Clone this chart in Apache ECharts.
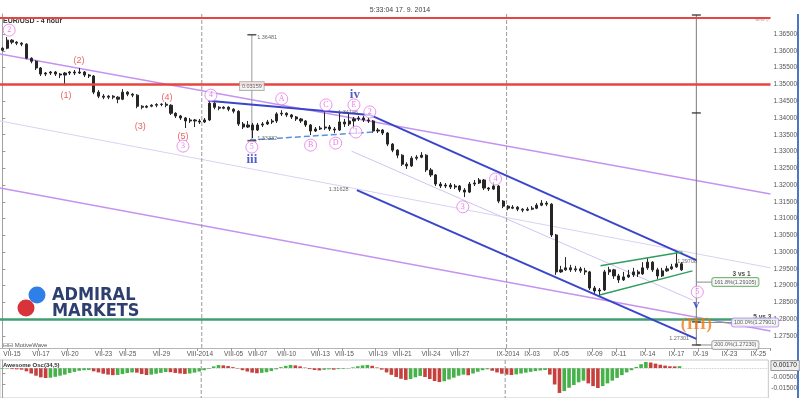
<!DOCTYPE html>
<html><head><meta charset="utf-8">
<script src="https://cdn.jsdelivr.net/npm/echarts@6/dist/echarts.min.js"></script>
<style>html,body{margin:0;padding:0;background:#fff;overflow:hidden}#c{width:800px;height:398px}</style>
</head><body><div id="c"></div>
<script>
// ---------- DATA ----------
const slotCount = 160; // 8-hour slots across the panel
const tickLabels = ['VII-15','VII-17','VII-20','VII-23','VII-25','VII-29','VIII-2014','VIII-05','VIII-07','VIII-10','VIII-13','VIII-15','VIII-19','VIII-21','VIII-24','VIII-27','IX-2014','IX-03','IX-05','IX-09','IX-11','IX-14','IX-17','IX-19','IX-23','IX-25'];
const tickSlots  = [2,8,14,21,26,33,41,48,53,59,66,71,78,83,89,95,105,110,116,123,128,134,140,145,151,157];
const priceTicks = [1.275,1.28,1.285,1.29,1.295,1.30,1.305,1.31,1.315,1.32,1.325,1.33,1.335,1.34,1.345,1.35,1.355,1.36,1.365];
const aoTicks = [-0.005,-0.015];

// EUR/USD bars: [open, close, low, high]
const ohlc = [
[1.3602,1.3608,1.3599,1.3611],[1.3608,1.3632,1.3605,1.3641],[1.3632,1.3626,1.3620,1.3635],[1.3626,1.3623,1.3617,1.3629],
[1.3623,1.3620,1.3614,1.3626],[1.3620,1.3578,1.3575,1.3623],[1.3578,1.3569,1.3563,1.3581],[1.3569,1.3549,1.3543,1.3572],
[1.3549,1.3531,1.3525,1.3552],[1.3531,1.3534,1.3525,1.3537],[1.3534,1.3537,1.3528,1.3540],[1.3537,1.3531,1.3525,1.3540],
[1.3531,1.3528,1.3519,1.3534],[1.3528,1.3534,1.3498,1.3537],[1.3534,1.3537,1.3528,1.3540],[1.3537,1.3534,1.3528,1.3543],
[1.3534,1.3537,1.3531,1.3549],[1.3537,1.3528,1.3522,1.3540],[1.3528,1.3525,1.3519,1.3531],[1.3525,1.3477,1.3471,1.3528],
[1.3477,1.3465,1.3459,1.3483],[1.3465,1.3462,1.3456,1.3471],[1.3462,1.3465,1.3456,1.3468],[1.3465,1.3462,1.3456,1.3468],
[1.3462,1.3456,1.3444,1.3465],[1.3456,1.3477,1.3453,1.3486],[1.3477,1.3471,1.3465,1.3480],[1.3471,1.3468,1.3462,1.3474],
[1.3468,1.3435,1.3429,1.3471],[1.3435,1.3432,1.3426,1.3438],[1.3432,1.3435,1.3429,1.3438],[1.3435,1.3438,1.3432,1.3441],
[1.3438,1.3440,1.3432,1.3444],[1.3440,1.3441,1.3435,1.3444],[1.3441,1.3438,1.3432,1.3447],[1.3438,1.3414,1.3409,1.3441],
[1.3414,1.3406,1.3400,1.3417],[1.3406,1.3400,1.3394,1.3409],[1.3400,1.3391,1.3370,1.3403],[1.3391,1.3394,1.3385,1.3400],
[1.3394,1.3391,1.3373,1.3397],[1.3391,1.3388,1.3382,1.3397],[1.3388,1.3394,1.3385,1.3400],[1.3394,1.3444,1.3391,1.3450],
[1.3444,1.3432,1.3426,1.3447],[1.3432,1.3429,1.3423,1.3435],[1.3429,1.3432,1.3426,1.3435],[1.3432,1.3426,1.3420,1.3435],
[1.3426,1.3420,1.3414,1.3429],[1.3420,1.3382,1.3376,1.3423],[1.3382,1.3373,1.3367,1.3388],[1.3373,1.3379,1.3370,1.3391],
[1.3379,1.3364,1.3340,1.3385],[1.3364,1.3379,1.3361,1.3385],[1.3379,1.3382,1.3373,1.3388],[1.3382,1.3388,1.3379,1.3394],
[1.3388,1.3391,1.3382,1.3397],[1.3391,1.3412,1.3385,1.3417],[1.3412,1.3414,1.3406,1.3423],[1.3414,1.3409,1.3403,1.3417],
[1.3409,1.3403,1.3397,1.3412],[1.3403,1.3397,1.3391,1.3406],[1.3397,1.3391,1.3385,1.3400],[1.3391,1.3379,1.3373,1.3394],
[1.3379,1.3361,1.3349,1.3382],[1.3361,1.3367,1.3358,1.3373],[1.3367,1.3370,1.3364,1.3376],[1.3370,1.3373,1.3364,1.3417],
[1.3373,1.3367,1.3361,1.3379],[1.3367,1.3364,1.3355,1.3373],[1.3364,1.3388,1.3361,1.3414],[1.3388,1.3382,1.3373,1.3397],
[1.3382,1.3391,1.3376,1.3417],[1.3391,1.3397,1.3367,1.3403],[1.3397,1.3400,1.3391,1.3406],[1.3400,1.3394,1.3388,1.3406],
[1.3394,1.3391,1.3385,1.3400],[1.3391,1.3361,1.3355,1.3394],[1.3361,1.3364,1.3355,1.3370],[1.3364,1.3355,1.3349,1.3367],
[1.3355,1.3322,1.3316,1.3358],[1.3322,1.3304,1.3298,1.3325],[1.3304,1.3289,1.3280,1.3307],[1.3289,1.3262,1.3257,1.3292],
[1.3262,1.3257,1.3248,1.3268],[1.3257,1.3280,1.3254,1.3286],[1.3280,1.3283,1.3274,1.3289],[1.3283,1.3289,1.3280,1.3298],
[1.3289,1.3245,1.3239,1.3292],[1.3245,1.3230,1.3224,1.3251],[1.3230,1.3203,1.3197,1.3233],[1.3203,1.3197,1.3191,1.3209],
[1.3197,1.3200,1.3191,1.3206],[1.3200,1.3194,1.3188,1.3206],[1.3194,1.3197,1.3188,1.3203],[1.3197,1.3185,1.3179,1.3200],
[1.3185,1.3179,1.3164,1.3191],[1.3179,1.3203,1.3176,1.3209],[1.3203,1.3206,1.3197,1.3215],[1.3206,1.3215,1.3203,1.3221],
[1.3215,1.3191,1.3185,1.3218],[1.3191,1.3188,1.3182,1.3194],[1.3188,1.3197,1.3185,1.3209],[1.3197,1.3152,1.3146,1.3200],
[1.3152,1.3137,1.3131,1.3155],[1.3137,1.3131,1.3125,1.3140],[1.3131,1.3134,1.3128,1.3140],[1.3134,1.3128,1.3122,1.3137],
[1.3128,1.3125,1.3119,1.3131],[1.3125,1.3128,1.3122,1.3134],[1.3128,1.3131,1.3125,1.3137],[1.3131,1.3140,1.3128,1.3146],
[1.3140,1.3146,1.3137,1.3155],[1.3146,1.3143,1.3137,1.3152],[1.3143,1.3051,1.3045,1.3146],[1.3051,1.2941,1.2932,1.3054],
[1.2941,1.2947,1.2938,1.2959],[1.2947,1.2953,1.2944,1.2985],[1.2953,1.2947,1.2941,1.2962],[1.2947,1.2950,1.2941,1.2959],
[1.2950,1.2944,1.2938,1.2956],[1.2944,1.2941,1.2932,1.2953],[1.2941,1.2893,1.2887,1.2944],[1.2893,1.2884,1.2875,1.2899],
[1.2884,1.2887,1.2866,1.2893],[1.2887,1.2941,1.2884,1.2947],[1.2941,1.2947,1.2932,1.2956],[1.2947,1.2929,1.2920,1.2950],
[1.2929,1.2917,1.2908,1.2935],[1.2917,1.2926,1.2914,1.2941],[1.2926,1.2932,1.2923,1.2947],[1.2932,1.2941,1.2926,1.2953],
[1.2941,1.2935,1.2926,1.2947],[1.2935,1.2953,1.2932,1.2970],[1.2953,1.2970,1.2947,1.2982],[1.2970,1.2947,1.2941,1.2973],
[1.2947,1.2929,1.2920,1.2953],[1.2929,1.2944,1.2926,1.2953],[1.2944,1.2950,1.2941,1.2959],[1.2950,1.2956,1.2947,1.2965],
[1.2956,1.2965,1.2953,1.3000],[1.2965,1.2947,1.2944,1.2970]
];

// Awesome Oscillator (34,5)
const aoValues = [
-0.0008,-0.0005,-0.0010,-0.0012,-0.0015,-0.0030,-0.0050,-0.0070,-0.0085,-0.0091,
-0.0088,-0.0080,-0.0070,-0.0060,-0.0045,-0.0035,-0.0025,-0.0020,-0.0018,-0.0030,
-0.0040,-0.0052,-0.0060,-0.0065,-0.0063,-0.0055,-0.0046,-0.0040,-0.0042,-0.0055,
-0.0064,-0.0060,-0.0052,-0.0044,-0.0036,-0.0038,-0.0045,-0.0050,-0.0054,-0.0050,
-0.0042,-0.0032,-0.0020,-0.0008,0.0015,0.0027,0.0024,0.0018,0.0008,-0.0005,
-0.0020,-0.0032,-0.0042,-0.0048,-0.0044,-0.0038,-0.0028,-0.0012,0.0008,0.0020,
0.0028,0.0024,0.0015,0.0004,-0.0010,-0.0018,-0.0022,-0.0016,-0.0012,-0.0015,
-0.0010,-0.0008,-0.0004,0.0006,0.0016,0.0024,0.0028,0.0020,0.0005,-0.0015,
-0.0040,-0.0062,-0.0082,-0.0098,-0.0108,-0.0100,-0.0085,-0.0072,-0.0082,-0.0100,
-0.0118,-0.0128,-0.0120,-0.0104,-0.0088,-0.0070,-0.0060,-0.0066,-0.0050,-0.0034,
-0.0020,-0.0012,-0.0025,-0.0040,-0.0052,-0.0060,-0.0064,-0.0058,-0.0050,-0.0042,
-0.0035,-0.0028,-0.0022,-0.0018,-0.0060,-0.0150,-0.0227,-0.0210,-0.0180,-0.0155,
-0.0130,-0.0115,-0.0140,-0.0165,-0.0182,-0.0165,-0.0140,-0.0115,-0.0090,-0.0065,
-0.0040,-0.0020,0.0010,0.0035,0.0055,0.0050,0.0040,0.0030,0.0022,0.0016,
0.0015,0.0017
];

// levels & annotations, in (slot, price)
const redLevels = [1.3709, 1.3507];
const greenLevel = 1.2753;
const lastPrice = 1.29458, lastHigh = 1.29698, aoLast = 0.0017;
const monthStarts = [41.4, 104.7];
const purpleUpper = [[-0.5,1.3591],[159.5,1.3173]];
const purpleLower = [[-0.5,1.3191],[159.5,1.2765]];
const faintLong   = [[-0.5,1.3391],[159.5,1.2953]];
const faintMid    = [[72.5,1.3301],[143.3,1.2857]];
const blueTriTop  = [[42.7,1.3451],[76.3,1.3409]];
const blueChanUp  = [[76.3,1.3409],[144.1,1.2976]];
const blueChanLow = [[73.6,1.3185],[144.1,1.2741]];
const blueDashed  = [[51.4,1.3334],[76.9,1.3358]];
const greenWedgeUp  = [[124.2,1.2959],[141.2,1.3000]];
const greenWedgeLow = [[124.0,1.2872],[143.3,1.2944]];
const measureLeft  = [[51.8,1.36481],[51.8,1.33322]];
const measureRight = [[144.1,1.3707],[144.1,1.2723]];
const measureCaps  = [[51.8,1.36481],[51.8,1.33322],[144.1,1.3707],[144.1,1.3415],[144.1,1.2792],[144.1,1.2723]];
const fibLevels = [['161.8%(1.29105)',1.29105,147.3,'#5aa85a'],['100.0%(1.27901)',1.27901,151.4,'#b08ee6'],['200.0%(1.27230)',1.27230,147.3,'#999999']];
const redWave = [['(2)',15.9,1.3570],['(1)',13.2,1.3468],['(3)',28.6,1.3373],['(4)',34.2,1.3462],['(5)',37.5,1.3346]];
const pinkWave = [['2',1.4,1.3662],['3',37.5,1.3316],['4',43.3,1.3468],['5',51.8,1.3313],['A',58.0,1.3457],['B',64.0,1.3319],['C',67.2,1.3439],['D',69.2,1.3325],['E',73.0,1.3439],['1',73.4,1.3358],['2',76.3,1.3418],['3',95.6,1.3135],['4',102.4,1.3218],['5',144.3,1.2881]];
const blueWave = [['iii',51.8,1.3275],['iv',73.2,1.3471],['v',144.1,1.2842]];
const orangeWave = [['(III)',144.1,1.2783]];
const smallNotes = [['1.36481',52.6,1.3641,'left'],['1.33332',52.6,1.3340,'left'],['1.34146',69.4,1.3415,'left'],['1.31628',72.2,1.3188,'right'],['1.29708',139.8,1.2973,'left'],['1.27301',142.9,1.2741,'right']];
const ratioNotes = [['3 vs 1',153.5,1.2935],['5 vs 3',157.8,1.2806]];
const measureBox = ['0.03159',51.8,1.3495];

// ---------- BUILD ----------
const categories = Array.from({length: slotCount}, (_, i) => { const k = tickSlots.indexOf(i); return k >= 0 ? tickLabels[k] : ''; });
const showTick = (i) => tickSlots.indexOf(i) >= 0;

function lineSeries(pts, color, width, type, extra) {
  return Object.assign({type:'line', xAxisIndex:1, yAxisIndex:0, data:pts, symbol:'none', silent:true,
    lineStyle:{color:color, width:width, type:type||'solid'}, z:3}, extra||{});
}
function textSeries(items, label, z) {
  return {type:'scatter', xAxisIndex:1, yAxisIndex:0, symbolSize:1, silent:true, z:z||6,
    itemStyle:{color:'rgba(0,0,0,0)'},
    label:Object.assign({show:true, position:'inside', formatter:p=>p.data.name}, label),
    data: items.map(it => ({name:it[0], value:[it[1], it[2]]}))};
}

const series = [];
series.push(lineSeries(faintLong, '#d9d2f2', 1));
series.push(lineSeries(faintMid, '#cfc6f0', 1));
series.push(lineSeries(purpleUpper, '#c493f2', 1.5));
series.push(lineSeries(purpleLower, '#c493f2', 1.5));
series.push(lineSeries(measureLeft, '#9a9a9a', 1));
series.push(lineSeries(measureRight, '#7a7a7a', 1));
monthStarts.forEach(s => series.push(lineSeries([[s,1.3710],[s,1.2714]], '#9a9a9a', 1, 'dashed')));
series.push({type:'candlestick', xAxisIndex:0, yAxisIndex:0, data:ohlc, barWidth:2.6, silent:true, z:4,
  itemStyle:{color:'#262626', color0:'#262626', borderColor:'#262626', borderColor0:'#262626', borderWidth:1},
  markLine:{symbol:'none', silent:true, animation:false, data:[
    {yAxis:redLevels[0], lineStyle:{color:'#e5463f', width:2, type:'solid'}, label:{show:false}},
    {yAxis:redLevels[1], lineStyle:{color:'#e5463f', width:2.5, type:'solid'}, label:{show:false}},
    {yAxis:greenLevel, lineStyle:{color:'#3f9f72', width:2.5, type:'solid'}, label:{show:false}},
    {yAxis:lastHigh, lineStyle:{opacity:0}, label:{show:true, position:'end', distance:3, formatter:lastHigh.toFixed(5), fontSize:6.5, color:'#333', backgroundColor:'#eef0f8', borderColor:'#9aa4c8', borderWidth:0.8, padding:[1,2]}},
    {yAxis:lastPrice, lineStyle:{opacity:0}, label:{show:true, position:'end', distance:3, formatter:lastPrice.toFixed(5), fontSize:6.5, color:'#222', backgroundColor:'#c9c2f0', borderColor:'#8f86d0', borderWidth:0.8, padding:[1,2]}}
  ]}});
series.push(lineSeries(blueTriTop, '#3a45cc', 2, 'solid', {z:5}));
series.push(lineSeries(blueChanUp, '#3a45cc', 2, 'solid', {z:5}));
series.push(lineSeries(blueChanLow, '#3a45cc', 2, 'solid', {z:5}));
series.push(lineSeries(blueDashed, '#5b8fe0', 1.5, 'dashed', {z:5}));
series.push(lineSeries(greenWedgeUp, '#2f9e5e', 1.5, 'solid', {z:5}));
series.push(lineSeries(greenWedgeLow, '#2f9e5e', 1.5, 'solid', {z:5}));
fibLevels.forEach(f => series.push(lineSeries([[144.1,f[1]],[f[2],f[1]]], '#8a8a8a', 1)));
series.push({type:'scatter', xAxisIndex:1, yAxisIndex:0, silent:true, z:6, symbol:'rect', symbolSize:[9,1.6],
  itemStyle:{color:'#333'}, data:measureCaps});
series.push(textSeries(redWave, {color:'#e23b3b', fontSize:9, fontFamily:'Liberation Sans'}));
series.push({type:'scatter', xAxisIndex:1, yAxisIndex:0, silent:true, z:7, symbol:'circle', symbolSize:12,
  itemStyle:{color:'rgba(255,255,255,0.85)', borderColor:'#e57ae6', borderWidth:1},
  label:{show:true, position:'inside', formatter:p=>p.data.name, color:'#e05ae0', fontSize:8, fontFamily:'Liberation Serif'},
  data: pinkWave.map(it => ({name:it[0], value:[it[1], it[2]]}))});
series.push(textSeries(blueWave, {color:'#2535b8', fontSize:13, fontWeight:'bold', fontFamily:'Liberation Serif'}, 8));
series.push(textSeries(orangeWave, {color:'#f07a14', fontSize:17, fontWeight:'bold', fontFamily:'Liberation Serif'}, 9));
series.push(textSeries(smallNotes.filter(n=>n[3]==='left'), {position:'right', distance:1, color:'#444', fontSize:5.5, fontFamily:'Liberation Sans'}));
series.push(textSeries(smallNotes.filter(n=>n[3]==='right'), {position:'left', distance:1, color:'#444', fontSize:5.5, fontFamily:'Liberation Sans'}));
series.push(textSeries(ratioNotes, {color:'#222', fontSize:6.5, fontWeight:'bold', fontFamily:'Liberation Sans'}));
series.push(textSeries([measureBox], {color:'#444', fontSize:5.5, backgroundColor:'#f6f6f6', borderColor:'#999', borderWidth:0.8, padding:[1,2]}, 8));
fibLevels.forEach(f => series.push(textSeries([[f[0], f[2], f[1]]], {position:'right', distance:0, color:'#333', fontSize:5.5, backgroundColor:'#f7f7f7', borderColor:f[3], borderWidth:1, borderRadius:2, padding:[1,2]}, 8)));
series.push({type:'bar', xAxisIndex:2, yAxisIndex:1, data:aoValues, barCategoryGap:'25%', silent:true,
  itemStyle:{color:p => (p.dataIndex>0 && aoValues[p.dataIndex] < aoValues[p.dataIndex-1]) ? '#c8403e' : '#45b24a'},
  markLine:{symbol:'none', silent:true, animation:false, data:[
    {yAxis:aoLast, lineStyle:{color:'#bbb', width:0.8, type:'dotted'}, label:{show:false}}
  ]}});
monthStarts.forEach(s => series.push({type:'line', xAxisIndex:3, yAxisIndex:1, data:[[s,0.0073],[s,-0.0273]], symbol:'none', silent:true, lineStyle:{color:'#9a9a9a', width:1, type:'dashed'}}));

const axisText = {fontSize:6.5, color:'#555', fontFamily:'Liberation Sans'};
const option = {
  animation:false,
  backgroundColor:'#ffffff',
  title:{text:'5:33:04 17. 9. 2014', left:'center', top:2, textStyle:{fontSize:7, fontWeight:'normal', color:'#444', fontFamily:'Liberation Sans'}},
  grid:[
    {left:0, right:29, top:14, height:334},
    {left:0, right:29, top:360, height:38, show:true, borderColor:'#c8c8c8', borderWidth:1}
  ],
  xAxis:[
    {type:'category', gridIndex:0, data:categories, boundaryGap:true,
      axisLine:{lineStyle:{color:'#b5b5b5'}},
      axisTick:{show:true, interval:showTick, length:3, lineStyle:{color:'#999'}},
      axisLabel:Object.assign({interval:showTick, margin:3}, axisText), splitLine:{show:false}},
    {type:'value', gridIndex:0, min:-0.5, max:slotCount-0.5, show:false},
    {type:'category', gridIndex:1, data:categories, boundaryGap:true, show:false},
    {type:'value', gridIndex:1, min:-0.5, max:slotCount-0.5, show:false}
  ],
  yAxis:[
    {type:'value', gridIndex:0, position:'right', min:1.2714, max:1.3710, scale:true,
      axisLine:{show:true, lineStyle:{color:'#a0a0a0'}},
      axisTick:{show:true, length:3, customValues:priceTicks, lineStyle:{color:'#999'}},
      axisLabel:Object.assign({customValues:priceTicks, margin:3, formatter:v=>v.toFixed(5)}, axisText),
      splitLine:{show:false}},
    {type:'value', gridIndex:1, position:'right', min:-0.0273, max:0.0073,
      axisLine:{show:true, lineStyle:{color:'#a0a0a0'}},
      axisTick:{show:true, length:3, customValues:aoTicks, lineStyle:{color:'#999'}},
      axisLabel:Object.assign({customValues:aoTicks, margin:3, verticalAlign:'top', formatter:v=>v.toFixed(5)}, axisText),
      splitLine:{show:false}}
  ],
  graphic:[
    {id:'sym', type:'text', left:3, top:18, style:{text:'EUR/USD - 4 hour', font:'bold 7px "Liberation Sans"', fill:'#333'}},
    {id:'mw', type:'text', left:3, top:342, style:{text:'\u229f\u229f MotiveWave', font:'6px "Liberation Sans"', fill:'#555'}},
    {id:'aoname', type:'text', left:3, top:362, style:{text:'Awesome Osc(34,5)', font:'bold 6px "Liberation Sans"', fill:'#333'}},
    {id:'icons', type:'text', left:755, top:16, style:{text:'\u2295\u2296\u25bd', font:'6px "DejaVu Sans"', fill:'#aaa'}},
    {id:'bar', type:'rect', shape:{x:797, y:14, width:2, height:384}, style:{fill:'#4a78c8'}},
    {id:'c1', type:'circle', shape:{cx:37, cy:295, r:8.5}, style:{fill:'#2f7fe8'}},
    {id:'c2', type:'circle', shape:{cx:26, cy:308, r:8.5}, style:{fill:'#d8323a'}},
    {id:'t1', type:'text', left:52, top:286, style:{text:'ADMIRAL', font:'bold 18px "DejaVu Sans Condensed","Liberation Sans Narrow","Roboto"', fill:'#2d3f6e'}},
    {id:'t2', type:'text', left:52, top:302, style:{text:'MARKETS', font:'bold 18px "DejaVu Sans Condensed","Liberation Sans Narrow","Roboto"', fill:'#2d3f6e'}}
  ],
  series:series
};
const chart = echarts.init(document.getElementById('c'), null, {renderer:'canvas'});
chart.setOption(option);
// current oscillator value tag, placed through the oscillator's own y scale
const aoY = chart.convertToPixel({yAxisIndex:1}, aoLast);
const axisX = chart.convertToPixel({xAxisIndex:3}, slotCount-0.5);
chart.setOption({graphic:[{id:'aotag', type:'text', x:axisX+3, y:aoY-5, z:20, style:{text:aoLast.toFixed(5), font:'6.5px "Liberation Sans"', fill:'#222', backgroundColor:'#eeeeee', borderColor:'#888', borderWidth:0.8, padding:[1,2]}}]});
</script></body></html>
